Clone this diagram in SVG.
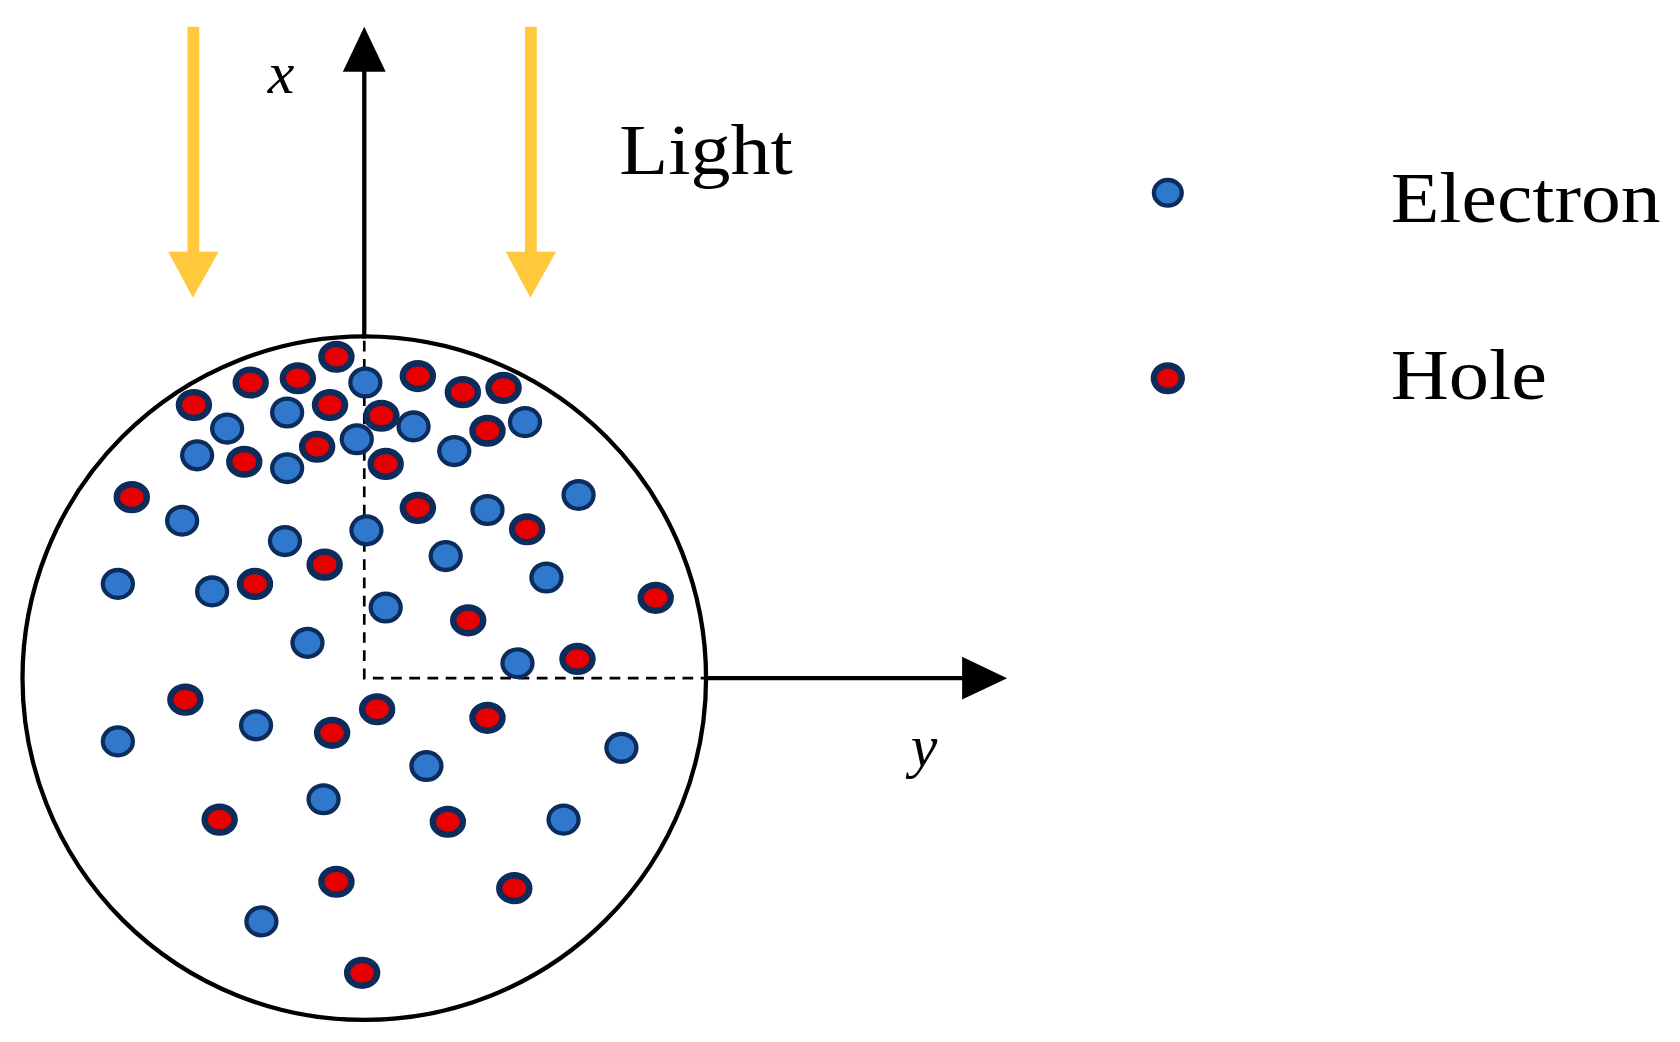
<svg xmlns="http://www.w3.org/2000/svg" width="1680" height="1042" viewBox="0 0 1680 1042">
<style>
.e{fill:#2F78CC;stroke:#0C2C5C;stroke-width:4}
.h{fill:#E80000;stroke:#0C2C5C;stroke-width:6}
.t{font-family:"Liberation Serif",serif;fill:#000}
.ax{stroke:#000;stroke-width:4;fill:none}
.ds{stroke:#000;stroke-width:2.5;stroke-dasharray:10 7;fill:none}
</style>
<rect width="1680" height="1042" fill="#fff"/>
<g transform="scale(1.0714)">
<g id="sphere"><circle cx="340" cy="633" r="319" fill="none" stroke="#000" stroke-width="4"/></g>
<g id="connectors">
<path class="ds" d="M340 318V633H658"/>
<path class="ax" d="M340 316V60"/>
<polygon points="340,25 320,67 360,67" fill="#000"/>
<path class="ax" d="M660 633H900"/>
<polygon points="940,633 898,613 898,653" fill="#000"/>
<g fill="#FFC83D">
<rect x="175" y="25" width="11" height="212"/><polygon points="157,235 204,235 180,278"/>
<rect x="490" y="25" width="11" height="212"/><polygon points="472,235 519,235 495,278"/>
</g>
</g>
<g id="labels">
<text class="t" x="250" y="87" font-size="56" font-style="italic">x</text>
<text class="t" x="850" y="715" font-size="56" font-style="italic">y</text>
<text class="t" x="578" y="162" font-size="68" textLength="162" lengthAdjust="spacingAndGlyphs">Light</text>
<text class="t" x="1298" y="207" font-size="68" textLength="252" lengthAdjust="spacingAndGlyphs">Electron</text>
<text class="t" x="1298" y="372" font-size="68" textLength="146" lengthAdjust="spacingAndGlyphs">Hole</text>
</g>
<g id="particles">
<g id="legend-electron"><ellipse class="e" cx="1090" cy="180" rx="13" ry="12"/></g>
<g id="legend-hole"><ellipse class="h" cx="1090" cy="353" rx="13" ry="12"/></g>
<ellipse class="h" cx="314" cy="333" rx="14" ry="12"/>
<ellipse class="h" cx="234" cy="357" rx="14" ry="12"/>
<ellipse class="h" cx="278" cy="353" rx="14" ry="12"/>
<ellipse class="e" cx="341" cy="357" rx="14" ry="13"/>
<ellipse class="h" cx="390" cy="351" rx="14" ry="12"/>
<ellipse class="h" cx="432" cy="366" rx="14" ry="12"/>
<ellipse class="h" cx="470" cy="362" rx="14" ry="12"/>
<ellipse class="h" cx="181" cy="378" rx="14" ry="12"/>
<ellipse class="e" cx="268" cy="385" rx="14" ry="13"/>
<ellipse class="h" cx="308" cy="378" rx="14" ry="12"/>
<ellipse class="h" cx="356" cy="388" rx="14" ry="12"/>
<ellipse class="e" cx="386" cy="398" rx="14" ry="13"/>
<ellipse class="e" cx="490" cy="394" rx="14" ry="13"/>
<ellipse class="e" cx="212" cy="400" rx="14" ry="13"/>
<ellipse class="e" cx="333" cy="410" rx="14" ry="13"/>
<ellipse class="h" cx="455" cy="402" rx="14" ry="12"/>
<ellipse class="e" cx="184" cy="425" rx="14" ry="13"/>
<ellipse class="h" cx="228" cy="431" rx="14" ry="12"/>
<ellipse class="e" cx="268" cy="437" rx="14" ry="13"/>
<ellipse class="h" cx="296" cy="417" rx="14" ry="12"/>
<ellipse class="h" cx="360" cy="433" rx="14" ry="12"/>
<ellipse class="e" cx="424" cy="421" rx="14" ry="13"/>
<ellipse class="h" cx="123" cy="464" rx="14" ry="12"/>
<ellipse class="e" cx="540" cy="462" rx="14" ry="13"/>
<ellipse class="e" cx="170" cy="486" rx="14" ry="13"/>
<ellipse class="h" cx="390" cy="474" rx="14" ry="12"/>
<ellipse class="e" cx="455" cy="476" rx="14" ry="13"/>
<ellipse class="h" cx="492" cy="494" rx="14" ry="12"/>
<ellipse class="e" cx="342" cy="495" rx="14" ry="13"/>
<ellipse class="e" cx="266" cy="505" rx="14" ry="13"/>
<ellipse class="e" cx="416" cy="519" rx="14" ry="13"/>
<ellipse class="h" cx="303" cy="527" rx="14" ry="12"/>
<ellipse class="e" cx="510" cy="539" rx="14" ry="13"/>
<ellipse class="e" cx="110" cy="545" rx="14" ry="13"/>
<ellipse class="e" cx="198" cy="552" rx="14" ry="13"/>
<ellipse class="h" cx="238" cy="545" rx="14" ry="12"/>
<ellipse class="h" cx="612" cy="558" rx="14" ry="12"/>
<ellipse class="e" cx="360" cy="567" rx="14" ry="13"/>
<ellipse class="h" cx="437" cy="579" rx="14" ry="12"/>
<ellipse class="e" cx="287" cy="600" rx="14" ry="13"/>
<ellipse class="e" cx="483" cy="619" rx="14" ry="13"/>
<ellipse class="h" cx="539" cy="615" rx="14" ry="12"/>
<ellipse class="h" cx="173" cy="653" rx="14" ry="12"/>
<ellipse class="h" cx="352" cy="662" rx="14" ry="12"/>
<ellipse class="h" cx="455" cy="670" rx="14" ry="12"/>
<ellipse class="e" cx="239" cy="677" rx="14" ry="13"/>
<ellipse class="h" cx="310" cy="684" rx="14" ry="12"/>
<ellipse class="e" cx="110" cy="692" rx="14" ry="13"/>
<ellipse class="e" cx="580" cy="698" rx="14" ry="13"/>
<ellipse class="e" cx="398" cy="715" rx="14" ry="13"/>
<ellipse class="e" cx="302" cy="746" rx="14" ry="13"/>
<ellipse class="h" cx="205" cy="765" rx="14" ry="12"/>
<ellipse class="h" cx="418" cy="767" rx="14" ry="12"/>
<ellipse class="e" cx="526" cy="765" rx="14" ry="13"/>
<ellipse class="h" cx="314" cy="823" rx="14" ry="12"/>
<ellipse class="h" cx="480" cy="829" rx="14" ry="12"/>
<ellipse class="e" cx="244" cy="860" rx="14" ry="13"/>
<ellipse class="h" cx="338" cy="908" rx="14" ry="12"/>
</g>
</g>
</svg>
